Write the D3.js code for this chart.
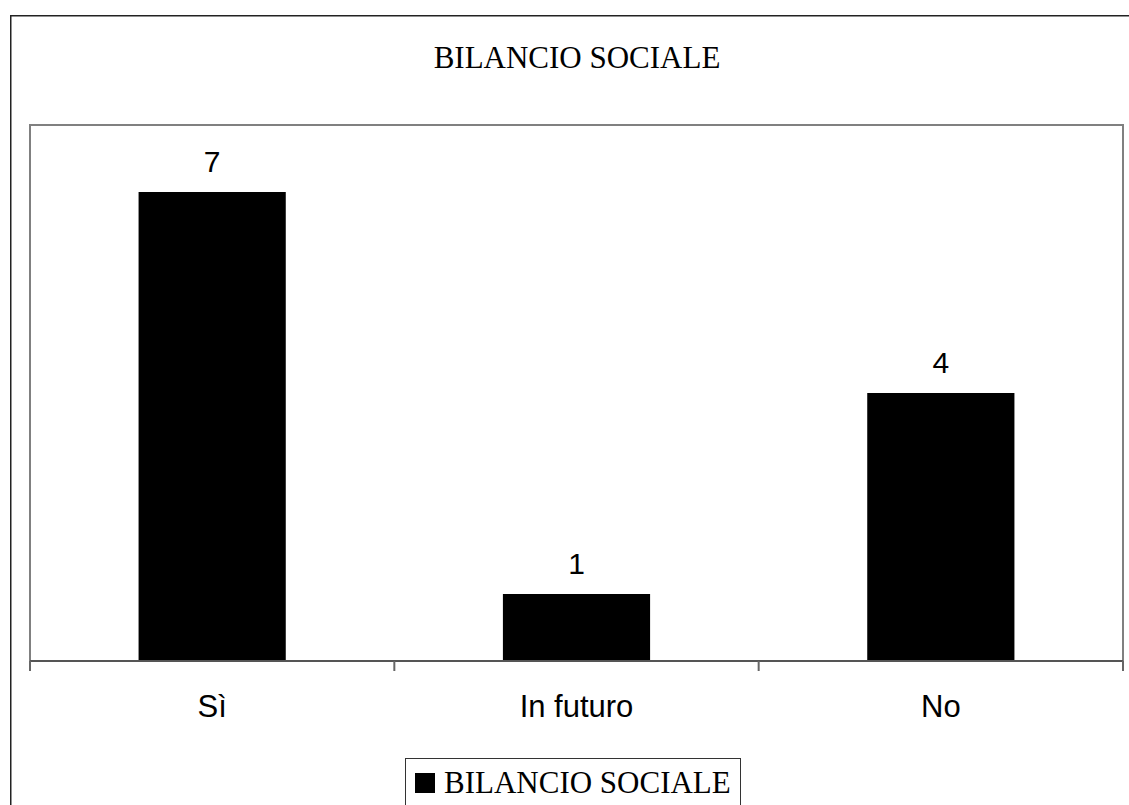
<!DOCTYPE html>
<html>
<head>
<meta charset="utf-8">
<script src="https://cdn.jsdelivr.net/npm/d3@7"></script>
<style>
  html, body { margin: 0; padding: 0; background: #fff; }
  svg { display: block; }
</style>
</head>
<body>
<svg id="chart" width="1129" height="805"></svg>
<script>
// Survey answers on whether a social report is published
const categories = ["Sì", "In futuro", "No"];
const values = [7, 1, 4];
const seriesName = "BILANCIO SOCIALE";
const chartTitle = "BILANCIO SOCIALE";

const W = 1129, H = 805;
const plot = { left: 30, top: 125, right: 1123, bottom: 661 };

const svg = d3.select("#chart");

// Outer chart frame (runs past the right and bottom edges)
svg.append("rect")
  .attr("x", 10.75).attr("y", 15.75)
  .attr("width", W + 20).attr("height", H + 20)
  .attr("fill", "#fff")
  .attr("stroke", "#222").attr("stroke-width", 1.5);

// Title
svg.append("text")
  .attr("x", 577).attr("y", 68)
  .attr("text-anchor", "middle")
  .attr("font-family", "'Liberation Serif', 'Times New Roman', serif")
  .attr("font-size", 31)
  .attr("fill", "#000")
  .text(chartTitle);

const x = d3.scaleBand()
  .domain(categories)
  .range([plot.left, plot.right])
  .paddingInner(0.596)
  .paddingOuter(0.298);

const y = d3.scaleLinear()
  .domain([0, 8])
  .range([plot.bottom, plot.top]);

// Plot area frame
svg.append("rect")
  .attr("x", plot.left).attr("y", plot.top)
  .attr("width", plot.right - plot.left)
  .attr("height", plot.bottom - plot.top)
  .attr("fill", "none")
  .attr("stroke", "#808080").attr("stroke-width", 2);

// Bars
svg.append("g").selectAll("rect")
  .data(values)
  .join("rect")
  .attr("x", (d, i) => x(categories[i]))
  .attr("y", d => y(d))
  .attr("width", x.bandwidth())
  .attr("height", d => y(0) - y(d))
  .attr("fill", "#000");

// Value labels
svg.append("g").selectAll("text")
  .data(values)
  .join("text")
  .attr("x", (d, i) => x(categories[i]) + x.bandwidth() / 2)
  .attr("y", d => y(d) - 20)
  .attr("text-anchor", "middle")
  .attr("font-family", "'Liberation Sans', Arial, sans-serif")
  .attr("font-size", 30)
  .attr("fill", "#000")
  .text(d => d);

// Category axis: boundary ticks between categories
const boundaries = d3.range(categories.length + 1).map(i => plot.left + i * (plot.right - plot.left) / categories.length);
const axisG = svg.append("g");
axisG.append("line")
  .attr("x1", plot.left).attr("x2", plot.right)
  .attr("y1", plot.bottom).attr("y2", plot.bottom)
  .attr("stroke", "#555").attr("stroke-width", 2);
axisG.selectAll("line.tick")
  .data(boundaries)
  .join("line")
  .attr("class", "tick")
  .attr("x1", d => d).attr("x2", d => d)
  .attr("y1", plot.bottom).attr("y2", plot.bottom + 10)
  .attr("stroke", "#666").attr("stroke-width", 2);
axisG.selectAll("text")
  .data(categories)
  .join("text")
  .attr("x", d => x(d) + x.bandwidth() / 2)
  .attr("y", 717)
  .attr("text-anchor", "middle")
  .attr("font-family", "'Liberation Sans', Arial, sans-serif")
  .attr("font-size", 31)
  .attr("fill", "#000")
  .text(d => d);

// Legend
const legend = svg.append("g");
legend.append("rect")
  .attr("x", 405.5).attr("y", 758.5)
  .attr("width", 335).attr("height", 70)
  .attr("fill", "#fff")
  .attr("stroke", "#333").attr("stroke-width", 1);
legend.append("rect")
  .attr("x", 415).attr("y", 773)
  .attr("width", 20).attr("height", 20)
  .attr("fill", "#000");
legend.append("text")
  .attr("x", 444).attr("y", 793)
  .attr("font-family", "'Liberation Serif', 'Times New Roman', serif")
  .attr("font-size", 31)
  .attr("fill", "#000")
  .text(seriesName);
</script>
</body>
</html>
